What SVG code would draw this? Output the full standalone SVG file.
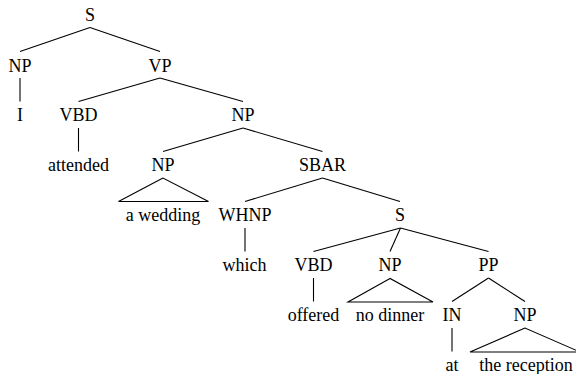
<svg xmlns="http://www.w3.org/2000/svg" width="576" height="374" viewBox="0 0 576 374">
<style>
text{font-family:'Liberation Serif','Times New Roman',serif;font-size:18px;fill:#000;text-anchor:middle}
.e line,.e polygon{stroke:#000;stroke-width:1.1;fill:none}
</style>
<rect width="576" height="374" fill="#fff"/>
<g class="e" id="connectors">
<line x1="90" y1="27.5" x2="20" y2="51.5"/>
<line x1="90" y1="27.5" x2="160" y2="51.5"/>
<line x1="20" y1="78" x2="20" y2="101.5"/>
<line x1="160" y1="78" x2="78.5" y2="101.5"/>
<line x1="160" y1="78" x2="243" y2="101.5"/>
<line x1="78.5" y1="128" x2="78.5" y2="151.5"/>
<line x1="243" y1="128" x2="163" y2="151.5"/>
<line x1="243" y1="128" x2="322.5" y2="151.5"/>
<polygon points="163,178 118.5,201.5 208.5,201.5"/>
<line x1="322.5" y1="178" x2="245" y2="201.5"/>
<line x1="322.5" y1="178" x2="400" y2="201.5"/>
<line x1="245" y1="228" x2="245" y2="251.5"/>
<line x1="400.5" y1="228" x2="313.5" y2="251.5"/>
<line x1="400.5" y1="228" x2="390" y2="251.5"/>
<line x1="400.5" y1="228" x2="488.5" y2="251.5"/>
<line x1="313.5" y1="278" x2="313.5" y2="301.5"/>
<polygon points="390,278.5 348,302 433,302"/>
<line x1="488.5" y1="278" x2="452" y2="301.5"/>
<line x1="488.5" y1="278" x2="525" y2="301.5"/>
<line x1="452" y1="328" x2="452" y2="351.5"/>
<polygon points="525,328 470,352 580,352"/>
</g>
<g id="n-S"><text x="90" y="20.5">S</text></g>
<g id="n-NP1"><text x="20" y="71.5">NP</text></g>
<g id="n-VP"><text x="160" y="71.5">VP</text></g>
<g id="n-I"><text x="20" y="121">I</text></g>
<g id="n-VBD1"><text x="78.5" y="121">VBD</text></g>
<g id="n-NP2"><text x="243" y="121">NP</text></g>
<g id="n-attended"><text x="78.5" y="171">attended</text></g>
<g id="n-NP3"><text x="163" y="171">NP</text></g>
<g id="n-SBAR"><text x="322.5" y="171">SBAR</text></g>
<g id="n-awedding"><text x="163" y="221">a wedding</text></g>
<g id="n-WHNP"><text x="245" y="221">WHNP</text></g>
<g id="n-S2"><text x="400" y="221">S</text></g>
<g id="n-which"><text x="244.5" y="271">which</text></g>
<g id="n-VBD2"><text x="313.5" y="271">VBD</text></g>
<g id="n-NP4"><text x="390" y="271">NP</text></g>
<g id="n-PP"><text x="488.5" y="271">PP</text></g>
<g id="n-offered"><text x="313.5" y="321">offered</text></g>
<g id="n-nodinner"><text x="390" y="321">no dinner</text></g>
<g id="n-IN"><text x="452" y="321">IN</text></g>
<g id="n-NP5"><text x="525" y="321">NP</text></g>
<g id="n-at"><text x="452" y="371">at</text></g>
<g id="n-thereception"><text x="526" y="371">the reception</text></g>
</svg>
